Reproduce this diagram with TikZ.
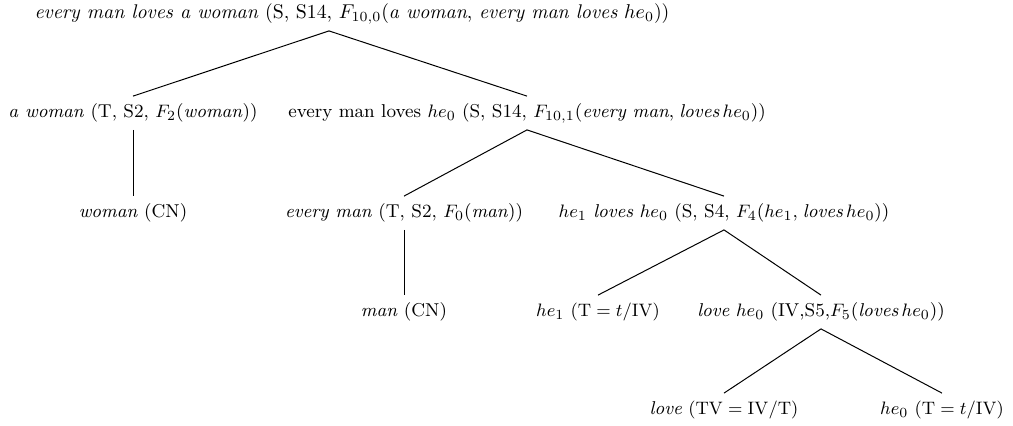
\documentclass[tikz,border=0pt]{standalone}
\usepackage{tikz}
\usetikzlibrary{positioning}

\tikzset{
  lbl/.style={inner sep=0pt, minimum height=16.5pt, font=\fontsize{9.3}{11}\selectfont},
  rootlbl/.style={lbl, font=\fontsize{9.9}{11}\selectfont},
  edge/.style={line width=0.5pt}
}

\begin{document}
\begin{tikzpicture}[x=0.5pt,y=-0.5pt]
  \useasboundingbox (0,0) rectangle (1013,425);

  % livello 1
  \node[rootlbl] (top) at (352,14) {\textit{every man loves a woman} (S, S14, $F_{10,0}$(\textit{a woman}, \textit{every man loves} $he_0$))};

  % livello 2
  \node[lbl] (aw) at (133,113) {\textit{a woman} (T, S2, $F_2$(\textit{woman}))};
  \node[lbl] (eml) at (527,113) {every man loves $he_0$ (S, S14, $F_{10,1}$(\textit{every man},\;\textit{loves}\,$he_0$))};

  % livello 3
  \node[lbl] (wom) at (133,213) {\textit{woman} (CN)};
  \node[lbl] (em) at (404,213) {\textit{every man} (T, S2, $F_0$(\textit{man}))};
  \node[lbl] (hlh) at (724,213) {$he_1$ \textit{loves} $he_0$ (S, S4, $F_4$($he_1$,\;\textit{loves}\,$he_0$))};

  % livello 4
  \node[lbl] (man) at (404,312) {\textit{man} (CN)};
  \node[lbl] (he1) at (598,312) {$he_1$ $(\mathrm{T}=t/\mathrm{IV})$};
  \node[lbl] (lh) at (821,312) {\textit{love} $he_0$ (IV,S5,$F_5$(\textit{loves}\,$he_0$))};

  % livello 5
  \node[lbl] (love) at (724,410) {\textit{love} $(\mathrm{TV}=\mathrm{IV}/\mathrm{T})$};
  \node[lbl] (he0) at (942,410) {$he_0$ $(\mathrm{T}=t/\mathrm{IV})$};

  % rami
  \draw[edge] ([xshift=-11.5pt]top.south) -- (aw.north);
  \draw[edge] ([xshift=-11.5pt]top.south) -- (eml.north);
  \draw[edge] (aw.south) -- (wom.north);
  \draw[edge] (eml.south) -- (em.north);
  \draw[edge] (eml.south) -- (hlh.north);
  \draw[edge] (em.south) -- (man.north);
  \draw[edge] (hlh.south) -- (he1.north);
  \draw[edge] (hlh.south) -- (lh.north);
  \draw[edge] (lh.south) -- (love.north);
  \draw[edge] (lh.south) -- (he0.north);
\end{tikzpicture}
\end{document}
